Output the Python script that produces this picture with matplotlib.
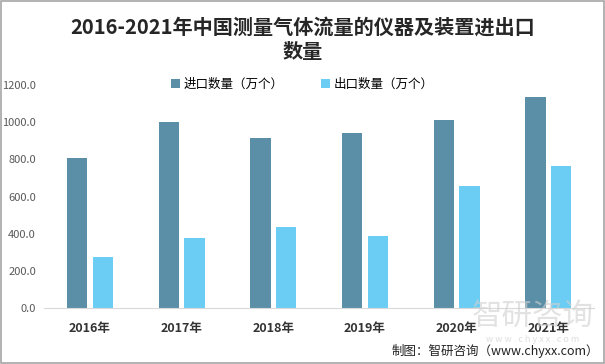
import numpy as np
import matplotlib
matplotlib.use("Agg")
import matplotlib.pyplot as plt

plt.rcParams['font.family'] = ['Noto Sans CJK SC', 'DejaVu Sans']

years = ['2016年', '2017年', '2018年', '2019年', '2020年', '2021年']
imports = [806, 1000, 914, 941, 1011, 1135]
exports = [274, 376, 435, 387, 656, 763]
yticks = [0, 200, 400, 600, 800, 1000, 1200]

c_imp = '#5b8fa8'
c_exp = '#6bcdf4'

fig = plt.figure(figsize=(6.05, 3.64), dpi=100)
ax = fig.add_axes([0.073, 0.154, 0.909, 0.612])

x = np.arange(len(years))
w = 0.22
ax.bar(x - 0.14, imports, w, color=c_imp, label='进口数量（万个）', zorder=2)
ax.bar(x + 0.14, exports, w, color=c_exp, label='出口数量（万个）', zorder=2)

ax.set_xlim(-0.5, len(years) - 0.5)
ax.set_ylim(0, 1200)
ax.set_yticks(yticks)
ax.set_yticklabels(['%.1f' % v for v in yticks], fontsize=8, color='#595959')
ax.set_xticks(x)
ax.set_xticklabels(years, fontsize=9, fontweight='bold', color='#333333')
ax.tick_params(axis='both', length=0)
ax.tick_params(axis='x', pad=10)
ax.tick_params(axis='y', pad=6)
for s in ['top', 'right', 'left']:
    ax.spines[s].set_visible(False)
ax.spines['bottom'].set_color('#d9d9d9')

fig.text(0.5, 0.925, '2016-2021年中国测量气体流量的仪器及装置进出口', ha='center', va='center',
         fontsize=14.5, fontweight='bold', color='#262626')
fig.text(0.5, 0.858, '数量', ha='center', va='center',
         fontsize=14.5, fontweight='bold', color='#262626')

fig.legend(loc='center', bbox_to_anchor=(0.5, 0.768), ncol=2, frameon=False,
           fontsize=9, handlelength=0.7, handleheight=0.7, handletextpad=0.3,
           columnspacing=3.0)

# watermark
fig.text(0.88, 0.13, '智研咨询', ha='center', va='center', fontsize=22,
         color='#d0d0d0', alpha=0.6, zorder=0)
fig.text(0.88, 0.068, 'w w w . c h y x x . c o m', ha='center', va='center', fontsize=6.5,
         color='#d0d0d0', alpha=0.7, zorder=0)

fig.text(0.99, 0.035, '制图：智研咨询（www.chyxx.com）', ha='right', va='center',
         fontsize=9, color='#222222')

fig.patches.append(plt.Rectangle((0.002, 0.003), 0.996, 0.994, transform=fig.transFigure,
                                 fill=False, edgecolor='#a6a6a6', linewidth=1.2))

fig.savefig('out.png', dpi=100)
